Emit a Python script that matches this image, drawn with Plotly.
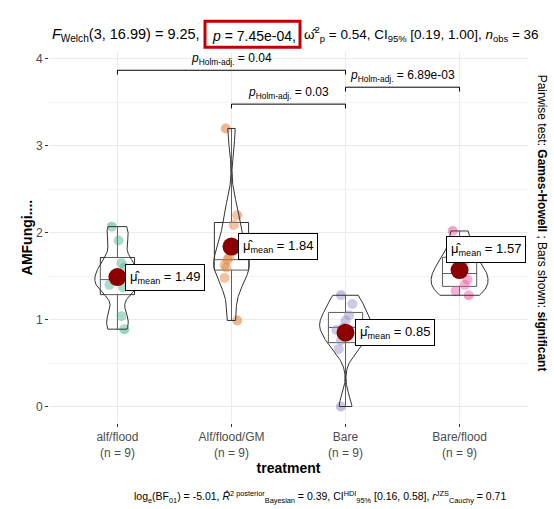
import numpy as np
import plotly.graph_objects as go

# ---- data -------------------------------------------------------------
categories = ["alf/flood", "Alf/flood/GM", "Bare", "Bare/flood"]
group_sizes = [9, 9, 9, 9]

alf_flood = [2.07, 1.91, 1.65, 1.60, 1.46, 1.40, 1.37, 1.04, 0.89]
alf_flood_gm = [3.20, 2.20, 2.09, 1.72, 1.69, 1.63, 1.60, 1.48, 0.99]
bare = [1.28, 1.18, 1.05, 0.99, 0.91, 0.88, 0.76, 0.66, 0.00]
bare_flood = [2.02, 1.83, 1.68, 1.60, 1.53, 1.46, 1.40, 1.33, 1.28]

group_means = [1.49, 1.84, 0.85, 1.57]

# pairwise Games-Howell comparisons (significant only)
pair_first = ["Alf/flood/GM", "Bare", "alf/flood"]
pair_second = ["Bare", "Bare/flood", "Bare"]
pair_p_text = ["0.03", "6.89e-03", "0.04"]

groups = [alf_flood, alf_flood_gm, bare, bare_flood]

# ---- style ------------------------------------------------------------
point_colors = ["#1B9E77", "#D95F02", "#7570B3", "#E7298A"]
jitter = [
    [-0.05, 0.01, 0.035, 0.06, 0.0, -0.07, 0.05, 0.035, 0.06],
    [-0.05, 0.05, 0.02, -0.02, -0.035, -0.06, -0.045, -0.06, 0.05],
    [-0.04, 0.06, 0.03, 0.0, -0.02, -0.08, -0.04, -0.06, -0.04],
    [-0.06, 0.03, 0.05, 0.01, -0.02, 0.07, 0.045, -0.035, 0.08],
]
label_shift = [(8, 0), (7, 0), (9, 0), (-14, 21)]
line_col = "#333333"
font_family = "Liberation Sans, Arial, sans-serif"

VIOLIN_WIDTH = 0.5
BOX_WIDTH = 0.3


def px_x(p):
    """Horizontal pixel -> paper fraction of the plotting area."""
    return (p - 49) / 479


def bw_nrd0(x):
    x = np.asarray(x, float)
    sd = x.std(ddof=1)
    iqr = np.quantile(x, 0.75) - np.quantile(x, 0.25)
    lo = min(sd, iqr / 1.34) if iqr > 0 else sd
    return 0.9 * lo * len(x) ** (-0.2)


def kde(x, grid):
    x = np.asarray(x, float)
    h = bw_nrd0(x)
    z = (grid[:, None] - x[None, :]) / h
    return np.exp(-0.5 * z ** 2).sum(axis=1) / (len(x) * h * np.sqrt(2 * np.pi))


# densities on the trimmed data range, scaled so every violin has equal area
grids, dens = [], []
for g in groups:
    grid = np.linspace(min(g), max(g), 512)
    grids.append(grid)
    dens.append(kde(g, grid))
dmax = max(d.max() for d in dens)

fig = go.Figure()

# jittered observations
for i, g in enumerate(groups):
    xpos = [i + 1 + j for j in jitter[i]]
    fig.add_trace(go.Scatter(
        x=xpos, y=g, mode="markers",
        marker=dict(size=10, color=point_colors[i], opacity=0.45),
        hoverinfo="skip", showlegend=False))

# boxes
for i, g in enumerate(groups):
    fig.add_trace(go.Box(
        x=[i + 1] * len(g), y=g, width=BOX_WIDTH, boxpoints=False,
        whiskerwidth=0, fillcolor="rgba(255,255,255,0)",
        line=dict(color=line_col, width=1), hoverinfo="skip",
        showlegend=False))

# violins
for i, g in enumerate(groups):
    half = dens[i] / dmax * VIOLIN_WIDTH / 2
    xs = np.concatenate([i + 1 - half, (i + 1 + half)[::-1], [i + 1 - half[0]]])
    ys = np.concatenate([grids[i], grids[i][::-1], [grids[i][0]]])
    fig.add_trace(go.Scatter(
        x=xs, y=ys, mode="lines", fill="toself",
        fillcolor="rgba(255,255,255,0.2)",
        line=dict(color=line_col, width=1), hoverinfo="skip",
        showlegend=False))

# group means
fig.add_trace(go.Scatter(
    x=[1, 2, 3, 4], y=group_means, mode="markers",
    marker=dict(size=18, color="#8B0000"), hoverinfo="skip",
    showlegend=False))

annotations = []
for i, m in enumerate(group_means):
    dx, dy = label_shift[i]
    annotations.append(dict(
        x=i + 1, y=m, xref="x", yref="y", xanchor="left", yanchor="middle",
        xshift=dx, yshift=dy, showarrow=False,
        text=f"μ̂<sub>mean</sub> = {m:.2f}",
        font=dict(family=font_family, size=13, color="black"),
        bgcolor="white", bordercolor="black", borderwidth=1, borderpad=4))

# significance brackets
top = max(max(g) for g in groups)
base_level = top + 0.28
step = 0.195
tick = 0.05
for k, (a, b, ptxt) in enumerate(zip(pair_first, pair_second, pair_p_text)):
    xa = categories.index(a) + 1
    xb = categories.index(b) + 1
    yl = base_level + k * step
    fig.add_trace(go.Scatter(
        x=[xa, xa, xb, xb], y=[yl - tick, yl, yl, yl - tick], mode="lines",
        line=dict(color="black", width=1), hoverinfo="skip",
        showlegend=False))
    annotations.append(dict(
        x=(xa + xb) / 2, y=yl, xref="x", yref="y", yanchor="bottom",
        yshift=1, showarrow=False,
        text=f"<i>p</i><sub>Holm-adj.</sub> = {ptxt}",
        font=dict(family=font_family, size=12, color="black")))

# subtitle with the Welch ANOVA result; the p-value part sits in its own
# annotation so it can be framed
sub_parts = [
    ("<i>F</i><sub>Welch</sub>(3, 16.99) = 9.25,", px_x(202), "right", 14.5),
    ("<i>p</i> = 7.45e-04,", px_x(254), "center", 14),
    ("ω̂<sup>2</sup><sub>p</sub> = 0.54, CI<sub>95%</sub> [0.19, 1.00], "
     "<i>n</i><sub>obs</sub> = 36", px_x(302), "left", 13.5),
]
for txt, xp, anchor, size in sub_parts:
    annotations.append(dict(
        x=xp, y=1, xref="paper", yref="paper", xanchor=anchor,
        yanchor="bottom", yshift=6, showarrow=False, text=txt,
        font=dict(family=font_family, size=size, color="black")))

# Bayesian caption
annotations.append(dict(
    x=0.566, y=0, xref="paper", yref="paper", xanchor="center",
    yanchor="top", yshift=-64, showarrow=False,
    text=("log<sub>e</sub>(BF<sub>01</sub>) = -5.01, "
          "<i>R̂</i><sup>2 posterior</sup><sub>Bayesian</sub> = 0.39, "
          "CI<sup>HDI</sup><sub>95%</sub> [0.16, 0.58], "
          "<i>r</i><sup>JZS</sup><sub>Cauchy</sub> = 0.71"),
    font=dict(family=font_family, size=10.5, color="black")))

# pairwise test note on the right
annotations.append(dict(
    x=1.0, y=0.54, xref="paper", yref="paper", xanchor="center",
    yanchor="middle", xshift=14, textangle=90, showarrow=False,
    text="Pairwise test: <b>Games-Howell</b> ; Bars shown: <b>significant</b>",
    font=dict(family=font_family, size=12, color="black")))

fig.update_layout(
    width=554, height=509,
    margin=dict(l=49, r=26, t=52, b=86),
    paper_bgcolor="white", plot_bgcolor="white",
    font=dict(family=font_family),
    annotations=annotations,
    shapes=[dict(type="rect", xref="paper", yref="paper",
                 x0=px_x(205), x1=px_x(300), y0=1.013, y1=1.083,
                 line=dict(color="#C00000", width=3))],
    xaxis=dict(
        range=[0.4, 4.6], tickmode="array", tickvals=[1, 2, 3, 4],
        ticktext=[f"{c}<br>(n = {n})" for c, n in zip(categories, group_sizes)],
        showgrid=True, gridcolor="#EBEBEB", zeroline=False,
        ticks="outside", ticklen=3, tickcolor="#333333",
        tickfont=dict(size=12, color="#4D4D4D"),
        title=dict(text="<b>treatment</b>", font=dict(size=14, color="black"),
                   standoff=4)),
    yaxis=dict(
        range=[-0.19, 4.08], tickmode="linear", dtick=1, tick0=0,
        showgrid=True, gridcolor="#EBEBEB", zeroline=False,
        minor=dict(dtick=0.5, showgrid=True, gridcolor="#F3F3F3"),
        ticks="outside", ticklen=3, tickcolor="#333333",
        tickfont=dict(size=12, color="#4D4D4D"),
        title=dict(text="<b>AMFungi....</b>", font=dict(size=14, color="black"),
                   standoff=0)),
)

fig.write_html("out.html")
